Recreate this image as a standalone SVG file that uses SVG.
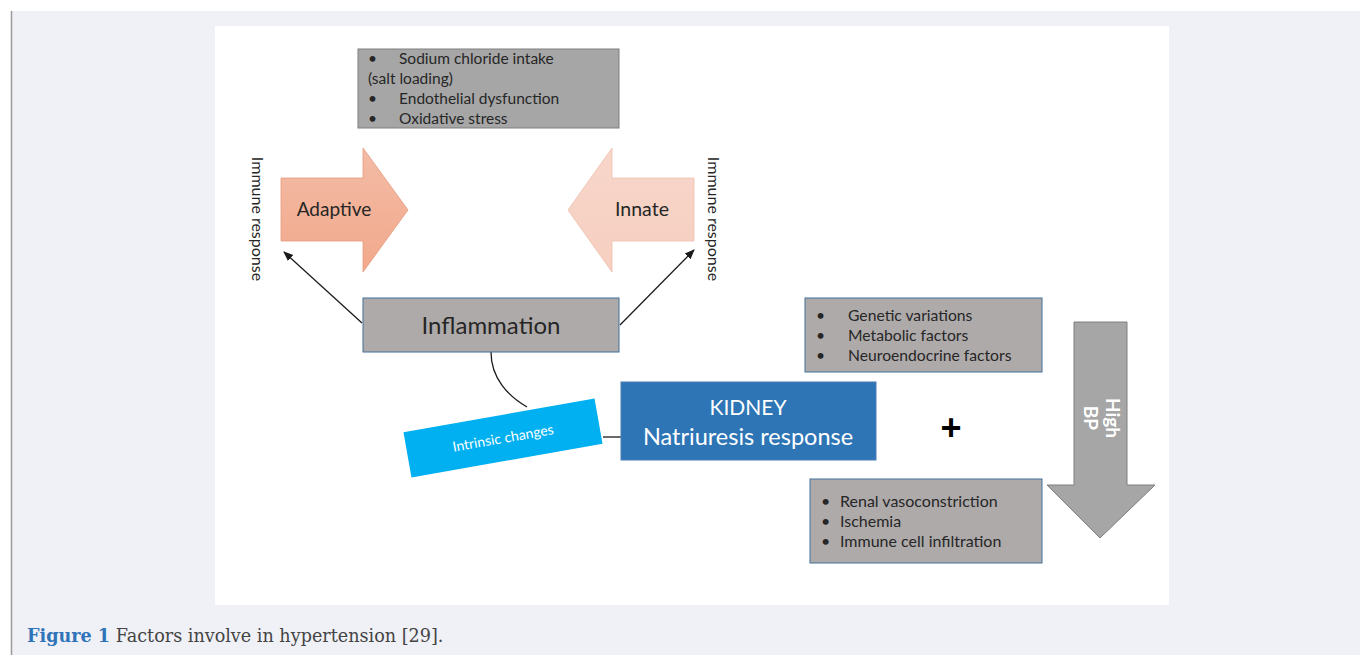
<svg xmlns="http://www.w3.org/2000/svg" width="1360" height="655" viewBox="0 0 1360 655">
<style>
.t{font-family:Lato,"Open Sans","Liberation Sans",sans-serif;fill:#262626}
.gbox{fill:#aeaaaa;stroke:#41719c;stroke-width:1}
.conn{stroke:#1a1a1a;stroke-width:1.3;fill:none}
.wt{font-family:Lato,"Open Sans","Liberation Sans",sans-serif;fill:#ffffff}
</style>
<defs>
<linearGradient id="gAd" x1="0" y1="0" x2="0" y2="1">
<stop offset="0" stop-color="#f3bba5"/><stop offset="1" stop-color="#f2a98c"/>
</linearGradient>
<linearGradient id="gIn" x1="0" y1="0" x2="0" y2="1">
<stop offset="0" stop-color="#f7d6ca"/><stop offset="1" stop-color="#f6cfc0"/>
</linearGradient>
<marker id="ah" markerWidth="10" markerHeight="10" refX="9" refY="5" orient="auto" markerUnits="userSpaceOnUse">
<path d="M0,1 L10,5 L0,9 Z" fill="#1a1a1a"/>
</marker>
</defs>
<rect x="0" y="0" width="1360" height="655" fill="#ffffff"/>
<rect x="11" y="11" width="1349" height="644" fill="#f0f1f6"/>
<line x1="11.5" y1="11" x2="11.5" y2="655" stroke="#9a9a9a" stroke-width="1.5"/>
<rect x="215" y="26" width="954" height="579" fill="#ffffff"/>

<g id="connectors">
<line class="conn" x1="362" y1="323" x2="284" y2="252" marker-end="url(#ah)"/>
<line class="conn" x1="620" y1="325" x2="694" y2="250" marker-end="url(#ah)"/>
<path class="conn" d="M491,352 C491,378 508,396 527,407" stroke="#404040"/>
<line class="conn" x1="603" y1="437" x2="621" y2="437" stroke="#404040"/>
</g>

<g id="factors-top">
<rect x="358" y="49" width="261" height="79" fill="#a6a6a6" stroke="#7f7f7f"/>
<text class="t" font-size="15.5"><tspan x="368" y="64">•</tspan><tspan x="399" y="64">Sodium chloride intake</tspan></text>
<text class="t" font-size="15.5" x="368" y="84">(salt loading)</text>
<text class="t" font-size="15.5"><tspan x="368" y="104">•</tspan><tspan x="399" y="104">Endothelial dysfunction</tspan></text>
<text class="t" font-size="15.5"><tspan x="368" y="124">•</tspan><tspan x="399" y="124">Oxidative stress</tspan></text>
</g>

<g id="adaptive">
<path d="M281,178 H363 V148 L408,210 L363,272 V241 H281 Z" fill="url(#gAd)" stroke="#e59a7c" stroke-width="0.8"/>
<text class="t" font-size="19" x="334" y="216" text-anchor="middle">Adaptive</text>
</g>

<g id="innate">
<path d="M694,178 H612 V148 L568,210 L612,272 V241 H694 Z" fill="url(#gIn)" stroke="#eebfae" stroke-width="0.8"/>
<text class="t" font-size="19.5" x="642" y="216" text-anchor="middle">Innate</text>
</g>

<g id="immune-left">
<text class="t" font-size="16" transform="translate(252,219) rotate(90)" text-anchor="middle">Immune response</text>
</g>
<g id="immune-right">
<text class="t" font-size="16" transform="translate(708,219) rotate(90)" text-anchor="middle">Immune response</text>
</g>

<g id="inflammation">
<rect class="gbox" x="363" y="298" width="256" height="54"/>
<text class="t" font-size="24" x="491" y="334" text-anchor="middle">Inflammation</text>
</g>

<g id="intrinsic">
<g transform="translate(503,438) rotate(-10)">
<rect x="-97" y="-23" width="194" height="46" fill="#00b0f0"/>
<text class="wt" font-size="14" x="0" y="5" text-anchor="middle">Intrinsic changes</text>
</g>
</g>

<g id="kidney">
<rect x="621" y="382" width="255" height="78" fill="#2e75b6" stroke="#4a7fb5"/>
<text class="wt" font-size="21" x="748" y="415" text-anchor="middle">KIDNEY</text>
<text class="wt" font-size="23.5" x="748" y="445" text-anchor="middle">Natriuresis response</text>
</g>

<g id="factors-genetic">
<rect class="gbox" x="805" y="298" width="237" height="74"/>
<text class="t" font-size="15.7"><tspan x="816" y="321">•</tspan><tspan x="848" y="321">Genetic variations</tspan></text>
<text class="t" font-size="15.7"><tspan x="816" y="341">•</tspan><tspan x="848" y="341">Metabolic factors</tspan></text>
<text class="t" font-size="15.7"><tspan x="816" y="361">•</tspan><tspan x="848" y="361">Neuroendocrine factors</tspan></text>
</g>

<g id="plus">
<text font-family="'Liberation Sans',Arial,sans-serif" font-weight="bold" font-size="36" x="951" y="440" text-anchor="middle" fill="#000">+</text>
</g>

<g id="factors-renal">
<rect class="gbox" x="810" y="479" width="232" height="84"/>
<text class="t" font-size="16"><tspan x="821" y="507">•</tspan><tspan x="840" y="507">Renal vasoconstriction</tspan></text>
<text class="t" font-size="16"><tspan x="821" y="527">•</tspan><tspan x="840" y="527">Ischemia</tspan></text>
<text class="t" font-size="16"><tspan x="821" y="547">•</tspan><tspan x="840" y="547">Immune cell infiltration</tspan></text>
</g>

<g id="high-bp">
<path d="M1074,322 H1127 V485 H1155 L1100,538 L1047,485 H1074 Z" fill="#a6a6a6" stroke="#7f7f7f" stroke-width="1"/>
<text class="wt" font-size="19" font-weight="bold" text-anchor="middle" transform="translate(1100,418) rotate(90)"><tspan x="0" y="-6">High</tspan><tspan x="0" y="16">BP</tspan></text>
</g>

<g id="caption">
<text font-family="'DejaVu Serif','Liberation Serif',serif" font-size="17.6" x="27" y="642" fill="#444"><tspan font-weight="bold" fill="#2f73b8">Figure 1</tspan> Factors involve in hypertension [29].</text>
</g>
</svg>
